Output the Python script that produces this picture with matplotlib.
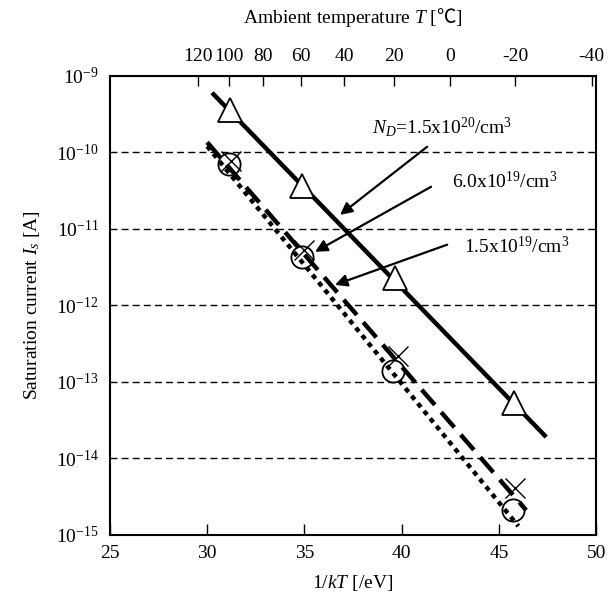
"""
Saturation current versus 1/kT for three doping concentrations.
"""
import matplotlib
matplotlib.use('Agg')
import matplotlib.pyplot as plt
from matplotlib.ticker import LogLocator, LogFormatterMathtext, NullLocator
import numpy as np

plt.rcParams['font.family'] = ['Liberation Serif', 'DejaVu Sans']
plt.rcParams['mathtext.fontset'] = 'custom'
plt.rcParams['mathtext.rm'] = 'Liberation Serif'
plt.rcParams['mathtext.it'] = 'Liberation Serif:italic'
plt.rcParams['mathtext.sf'] = 'Noto Sans CJK JP'   # only used for the degC sign
plt.rcParams['font.size'] = 14

K_BOLTZMANN = 8.617e-5  # eV/K

# Measured points: 1/kT [/eV] and saturation current [A]
tri_x = [31.17, 34.88, 39.66, 45.80]
tri_y = [3.6e-10, 3.6e-11, 2.3e-12, 5.3e-14]
cross_x = [31.20, 35.00, 39.80, 45.83]
cross_y = [7.8e-11, 5.3e-12, 2.2e-13, 4.1e-15]
circ_x = [31.12, 34.88, 39.56, 45.73]
circ_y = [7.1e-11, 4.3e-12, 1.4e-13, 2.1e-15]

# Fitted lines (end points)
fit_high_x = [30.25, 47.43]
fit_high_y = [6.0e-10, 1.9e-14]
fit_mid_x = [30.00, 46.40]
fit_mid_y = [1.35e-10, 2.1e-15]
fit_low_x = [30.00, 46.00]
fit_low_y = [1.2e-10, 1.3e-15]

# Top axis temperatures [degC]
temp_ticks = [120, 100, 80, 60, 40, 20, 0, -20, -40]

fig = plt.figure(figsize=(6.14, 6.01), dpi=100)
ax = fig.add_axes([0.179, 0.110, 0.792, 0.764])

# Grid lines at each decade
for decade in [1e-10, 1e-11, 1e-12, 1e-13, 1e-14]:
    ax.axhline(decade, color='black', lw=1.0, ls=(0, (5, 3)), zorder=1)

ax.plot(fit_high_x, fit_high_y, color='black', lw=3.2, solid_capstyle='butt', zorder=2)
ax.plot(fit_mid_x, fit_mid_y, color='black', lw=3.2, ls=(0, (4.5, 2.2)), zorder=2)
ax.plot(fit_low_x, fit_low_y, color='black', lw=3.2, ls=(0, (1.1, 1.1)), zorder=2)

ax.plot(tri_x, tri_y, ls='none', marker='^', ms=17, mfc='white', mec='black', mew=1.3, zorder=3)
ax.plot(circ_x, circ_y, ls='none', marker='o', ms=16, mfc='none', mec='black', mew=1.3, zorder=3)
ax.plot(cross_x, cross_y, ls='none', marker='x', ms=15, mec='black', mew=1.0, zorder=3)

ax.set_yscale('log')
ax.set_xlim(25, 50)
ax.set_ylim(1e-15, 1e-9)
ax.set_xticks([25, 30, 35, 40, 45, 50])
ax.yaxis.set_major_locator(LogLocator(base=10, numticks=10))
ax.yaxis.set_major_formatter(LogFormatterMathtext())
ax.yaxis.set_minor_locator(NullLocator())
ax.tick_params(axis='x', direction='in', length=8, width=1, pad=7)
ax.tick_params(axis='y', length=0, pad=8)
for spine in ax.spines.values():
    spine.set_linewidth(1.5)

ax.set_xlabel('1/$kT$ [/eV]', labelpad=8)
ax.set_ylabel('Saturation current $I_s$ [A]', labelpad=10)

# Top axis with ambient temperature
top = ax.secondary_xaxis('top',
                         functions=(lambda x: 1.0 / (K_BOLTZMANN * x) - 273.15,
                                    lambda t: 1.0 / (K_BOLTZMANN * (t + 273.15))))
top.set_xticks(temp_ticks)
top.set_xticklabels([str(t) for t in temp_ticks])
top.tick_params(direction='in', length=7, width=1, pad=8)
top.set_xlabel('Ambient temperature $T$ [$\\mathsf{\u2103}$]', labelpad=18)

# Annotations
arrow = dict(arrowstyle='-|>', color='black', lw=1.6, mutation_scale=18, shrinkA=0, shrinkB=0)
ax.annotate('', xy=(36.83, 1.52e-11), xytext=(41.31, 1.18e-10), arrowprops=arrow)
ax.annotate('', xy=(35.55, 5.0e-12), xytext=(41.51, 3.54e-11), arrowprops=arrow)
ax.annotate('', xy=(36.57, 1.85e-12), xytext=(42.34, 6.2e-12), arrowprops=arrow)
ax.text(42.08, 2.15e-10, '$N_D$=1.5x10$^{20}$/cm$^3$', ha='center', va='center')
ax.text(45.32, 4.1e-11, '6.0x10$^{19}$/cm$^3$', ha='center', va='center')
ax.text(45.94, 5.8e-12, '1.5x10$^{19}$/cm$^3$', ha='center', va='center')

fig.savefig('out.png', dpi=100)
plt.close('all')
